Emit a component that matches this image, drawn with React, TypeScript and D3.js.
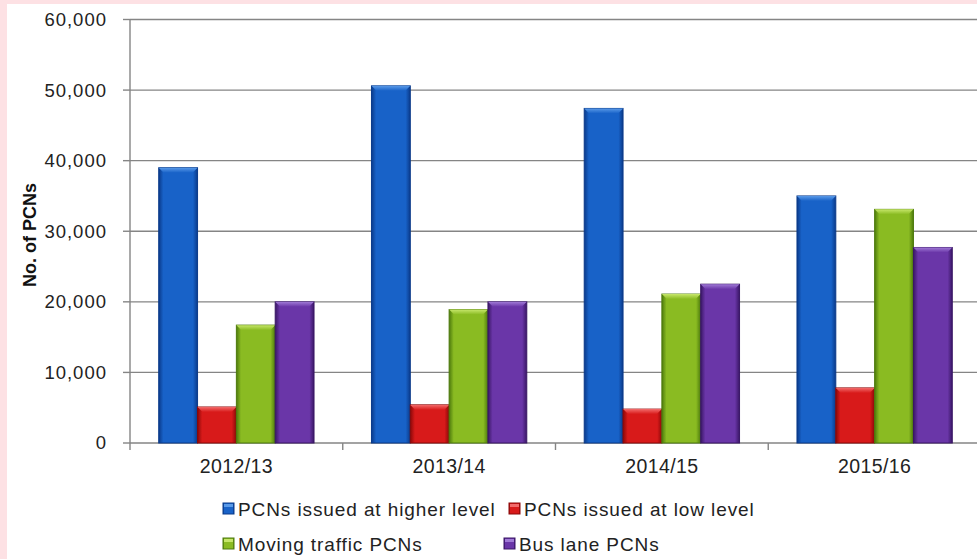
import React, { useEffect, useRef } from 'react';
import * as d3 from 'd3';

const years = ['2012/13', '2013/14', '2014/15', '2015/16'];
const seriesNames = [
  'PCNs issued at higher level',
  'PCNs issued at low level',
  'Moving traffic PCNs',
  'Bus lane PCNs',
];
const higherLevel = [39000, 50600, 47400, 35000];
const lowLevel = [5100, 5400, 4800, 7800];
const movingTraffic = [16700, 18900, 21100, 33100];
const busLane = [20000, 20000, 22500, 27700];
const yTicks = [0, 10000, 20000, 30000, 40000, 50000, 60000];

const palette = [
  { dark: '#0a3a8a', base: '#1862c8', light: '#5a9ae8' },
  { dark: '#8c0808', base: '#d81a1a', light: '#f26a6a' },
  { dark: '#4d7a0c', base: '#8abb22', light: '#c6e66a' },
  { dark: '#3a1766', base: '#6a36a8', light: '#a07ad6' },
];

const App: React.FC = () => {
  const svgRef = useRef<SVGSVGElement>(null);

  useEffect(() => {
    if (!svgRef.current) return;
    const svg = d3.select(svgRef.current);
    svg.selectAll('*').remove();

    const width = 977;
    const height = 559;
    const left = 130;
    const top = 19.5;
    const bottom = 443;
    const right = 981;

    const values = [higherLevel, lowLevel, movingTraffic, busLane];
    const rows = years.map((y, i) => ({ year: y, vals: values.map(v => v[i]) }));

    // background + pink frame
    svg.append('rect').attr('width', width).attr('height', height).attr('fill', '#fde1e4');
    svg.append('rect').attr('x', 7).attr('y', 4).attr('width', width).attr('height', height).attr('fill', '#fff');

    const defs = svg.append('defs');
    palette.forEach((c, i) => {
      const g = defs.append('linearGradient').attr('id', `bar${i}`).attr('x1', 0).attr('x2', 1).attr('y1', 0).attr('y2', 0);
      g.append('stop').attr('offset', '0%').attr('stop-color', c.dark);
      g.append('stop').attr('offset', '12%').attr('stop-color', c.base);
      g.append('stop').attr('offset', '50%').attr('stop-color', c.base);
      g.append('stop').attr('offset', '88%').attr('stop-color', c.base);
      g.append('stop').attr('offset', '100%').attr('stop-color', c.dark);
      const t = defs.append('linearGradient').attr('id', `top${i}`).attr('x1', 0).attr('x2', 0).attr('y1', 0).attr('y2', 1);
      t.append('stop').attr('offset', '0%').attr('stop-color', c.light);
      t.append('stop').attr('offset', '100%').attr('stop-color', c.base);
    });

    const y = d3.scaleLinear().domain([0, 60000]).range([bottom, top]);
    const x0 = d3.scaleBand().domain(years).range([left, right]).paddingInner(0.27).paddingOuter(0.135);
    const x1 = d3.scaleBand().domain(seriesNames).range([0, x0.bandwidth()]);
    const step = x0.step();

    // gridlines
    svg.append('g').selectAll('line').data(yTicks.slice(1)).join('line')
      .attr('x1', left).attr('x2', width)
      .attr('y1', d => y(d)).attr('y2', d => y(d))
      .attr('stroke', '#858585').attr('stroke-width', 1.4);

    // axes
    svg.append('line').attr('x1', left).attr('x2', left).attr('y1', top).attr('y2', bottom + 7)
      .attr('stroke', '#858585').attr('stroke-width', 1.4);
    svg.append('line').attr('x1', left).attr('x2', width).attr('y1', bottom).attr('y2', bottom)
      .attr('stroke', '#858585').attr('stroke-width', 1.4);
    svg.append('g').selectAll('line').data(yTicks).join('line')
      .attr('x1', left - 7).attr('x2', left)
      .attr('y1', d => y(d)).attr('y2', d => y(d))
      .attr('stroke', '#858585').attr('stroke-width', 1.4);
    svg.append('g').selectAll('line').data(d3.range(1, years.length + 1)).join('line')
      .attr('x1', d => left + d * step).attr('x2', d => left + d * step)
      .attr('y1', bottom).attr('y2', bottom + 7)
      .attr('stroke', '#858585').attr('stroke-width', 1.4);

    const fmt = d3.format(',');
    svg.append('g').selectAll('text').data(yTicks).join('text')
      .attr('x', 107).attr('y', d => y(d)).attr('dy', '0.35em')
      .attr('text-anchor', 'end')
      .style('font', '18.5px "Liberation Sans", Arial, sans-serif')
      .style('letter-spacing', '1px')
      .attr('fill', '#222')
      .text(d => fmt(d));

    svg.append('g').selectAll('text').data(years).join('text')
      .attr('x', d => (x0(d) as number) + x0.bandwidth() / 2).attr('y', 473)
      .attr('text-anchor', 'middle')
      .style('font', '19.5px "Liberation Sans", Arial, sans-serif')
      .style('letter-spacing', '0.4px')
      .attr('fill', '#222')
      .text(d => d);

    svg.append('text')
      .attr('transform', 'translate(36,235) rotate(-90)')
      .attr('text-anchor', 'middle')
      .style('font', 'bold 18px "Liberation Sans", Arial, sans-serif')
      .attr('fill', '#111')
      .text('No. of PCNs');

    // bars
    const bev = 5;
    const groups = svg.append('g').selectAll('g').data(rows).join('g')
      .attr('transform', d => `translate(${x0(d.year)},0)`);
    groups.each(function (row) {
      const g = d3.select(this);
      row.vals.forEach((v, i) => {
        const bx = x1(seriesNames[i]) as number;
        const bw = x1.bandwidth();
        const by = y(v);
        g.append('rect').attr('x', bx).attr('y', by).attr('width', bw).attr('height', bottom - by)
          .attr('fill', `url(#bar${i})`).attr('stroke', palette[i].dark).attr('stroke-width', 1);
        g.append('path')
          .attr('d', `M${bx},${by}L${bx + bw},${by}L${bx + bw - bev},${by + bev}L${bx + bev},${by + bev}Z`)
          .attr('fill', `url(#top${i})`);
      });
    });

    // legend
    const legendItems = [
      { sx: 223, tx: 238, ty: 516 },
      { sx: 509, tx: 524, ty: 516 },
      { sx: 223, tx: 238, ty: 551 },
      { sx: 504, tx: 519, ty: 551 },
    ];
    legendItems.forEach((p, i) => {
      svg.append('rect').attr('x', p.sx).attr('y', p.ty - 13).attr('width', 11).attr('height', 11)
        .attr('fill', `url(#bar${i})`).attr('stroke', palette[i].dark).attr('stroke-width', 1);
      svg.append('rect').attr('x', p.sx + 1).attr('y', p.ty - 12).attr('width', 9).attr('height', 3)
        .attr('fill', palette[i].light);
      svg.append('text').attr('x', p.tx).attr('y', p.ty)
        .style('font', '19px "Liberation Sans", Arial, sans-serif')
        .style('letter-spacing', '0.9px')
        .attr('fill', '#222')
        .text(seriesNames[i]);
    });
  }, []);

  return (
    <div style={{ position: 'fixed', left: 0, top: 0, width: 977, height: 559 }}>
      <svg ref={svgRef} width={977} height={559} style={{ display: 'block' }} />
    </div>
  );
};

export default App;
